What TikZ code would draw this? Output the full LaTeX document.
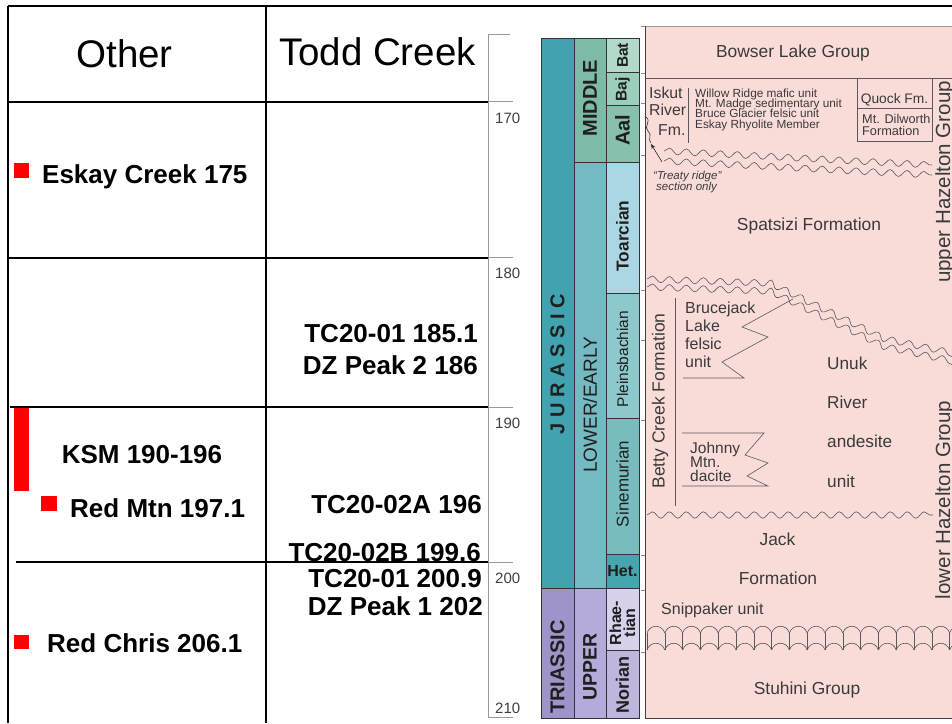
\documentclass[tikz,border=0pt]{standalone}
\usepackage{fontspec}
\setmainfont{Liberation Sans}
\usetikzlibrary{decorations.pathmorphing,arrows.meta}
\newcommand{\fsz}[1]{\fontsize{#1}{#1}\selectfont}
\definecolor{cjur}{HTML}{42A3B0}
\definecolor{cmid}{HTML}{7DBBA8}
\definecolor{clow}{HTML}{74BAC3}
\definecolor{cbat}{HTML}{B3DAC9}
\definecolor{cbaj}{HTML}{9CCEBA}
\definecolor{caal}{HTML}{85C1AC}
\definecolor{ctoa}{HTML}{AAD7E3}
\definecolor{cple}{HTML}{8DC9CC}
\definecolor{csin}{HTML}{77BDBF}
\definecolor{chet}{HTML}{46A6B0}
\definecolor{ctri}{HTML}{9F93C9}
\definecolor{cupp}{HTML}{B5AAD9}
\definecolor{crha}{HTML}{D7D1EB}
\definecolor{cnor}{HTML}{BFB6DE}
\definecolor{cpink}{HTML}{F9DCD8}
\definecolor{ctxt}{HTML}{3A3A3A}
\begin{document}
\begin{tikzpicture}[x=1pt,y=-1pt,
  tline/.style={line width=1.3pt, black},
  hdr/.style={font=\fsz{38.5}, inner sep=0pt, anchor=base},
  blab/.style={font=\bfseries\fsz{26}, inner sep=0pt},
  snum/.style={font=\fsz{15}, text=black!75, inner sep=0pt, anchor=base west},
  sline/.style={draw=black!40, line width=0.8pt},
  cellbox/.style={draw=black!80, line width=0.6pt},
  clab/.style={inner sep=0pt, text=black!88, rotate=90},
  glab/.style={font=\fsz{17.4}, text=ctxt, inner sep=0pt, anchor=base},
  gline/.style={draw=black!65, line width=0.6pt},
  wavy/.style={gline, decorate, decoration={snake, segment length=17pt, amplitude=3.2pt}},
]
\useasboundingbox (0,0) rectangle (952,723);
\fill[white] (0,0) rectangle (952,723);

% ---------- table ----------
\draw[tline] (8,6) -- (952,6);
\draw[tline] (8,6) -- (8,723);
\draw[tline] (266,6) -- (266,723);
\draw[tline] (8,102) -- (488,102);
\draw[tline] (8,258) -- (488,258);
\draw[tline] (10,407) -- (488,407);
\draw[tline] (16,562) -- (488,562);

\node[hdr] (oth) at (124.5,67) {Other};
\node[hdr] (tod) at (377.5,65) {Todd Creek};

\fill[red] (14,163) rectangle (29,178);
\node[blab, anchor=base west] (esk) at (42,183) {Eskay Creek 175};
\node[blab, anchor=base east] (tc1) at (478,342) {TC20-01 185.1};
\node[blab, anchor=base east] (dz2) at (478,374) {DZ Peak 2 186};
\fill[red] (14,408) rectangle (29,491);
\node[blab, anchor=base] (ksm) at (142,463) {KSM 190-196};
\fill[red] (41,496) rectangle (57,511);
\node[blab, anchor=base west] (rmt) at (70,517) {Red Mtn 197.1};
\node[blab, anchor=base east] (tc2a) at (482,513) {TC20-02A 196};
\node[blab, anchor=base east] (tc2b) at (481,561) {TC20-02B 199.6};
\draw[tline] (266,562) -- (488,562);
\node[blab, anchor=base east] (tc1b) at (482,587) {TC20-01 200.9};
\node[blab, anchor=base east] (dz1) at (483,615) {DZ Peak 1 202};
\fill[red] (14,635) rectangle (29,649);
\node[blab, anchor=base west] (rch) at (47,652) {Red Chris 206.1};

% ---------- scale ----------
\draw[sline] (510,34) -- (488,34) -- (488,717) -- (513,717);
\foreach \yy in {101,257,407,562} \draw[sline] (488,\yy) -- (513,\yy);
\node[snum] (s170) at (495,123) {170};
\node[snum] (s180) at (495,278) {180};
\node[snum] (s190) at (495,428) {190};
\node[snum] (s200) at (495,583) {200};
\node[snum] (s210) at (495,713) {210};

% ---------- time scale ----------
\filldraw[cellbox, fill=cjur] (541,38) rectangle (574,588);
\filldraw[cellbox, fill=ctri] (541,588) rectangle (574,718);
\filldraw[cellbox, fill=cmid] (574,38) rectangle (606,162);
\filldraw[cellbox, fill=clow] (574,162) rectangle (606,588);
\filldraw[cellbox, fill=cupp] (574,588) rectangle (606,718);
\filldraw[cellbox, fill=cbat] (606,38) rectangle (639,72);
\filldraw[cellbox, fill=cbaj] (606,72) rectangle (639,105);
\filldraw[cellbox, fill=caal] (606,105) rectangle (639,162);
\filldraw[cellbox, fill=ctoa] (606,162) rectangle (639,293);
\filldraw[cellbox, fill=cple] (606,293) rectangle (639,418);
\filldraw[cellbox, fill=csin] (606,418) rectangle (639,554);
\filldraw[cellbox, fill=chet] (606,554) rectangle (639,588);
\filldraw[cellbox, fill=crha] (606,588) rectangle (639,650);
\filldraw[cellbox, fill=cnor] (606,650) rectangle (639,718);

\node[clab, font=\bfseries\fsz{20}] (jur) at (557.5,364) {J U R A S S I C};
\node[clab, font=\bfseries\fsz{20}] (tri) at (557.5,667) {TRIASSIC};
\node[clab, font=\bfseries\fsz{20}] (mid) at (590,98) {MIDDLE};
\node[clab, font=\fsz{19}] (low) at (590,405) {LOWER/EARLY};
\node[clab, font=\bfseries\fsz{19.5}] (upp) at (590,667) {UPPER};
\node[clab, font=\bfseries\fsz{15.5}] (bat) at (622.5,55.5) {Bat};
\node[clab, font=\bfseries\fsz{15.5}] (baj) at (622.5,89.5) {Baj};
\node[clab, font=\bfseries\fsz{20}] (aal) at (622.5,130) {Aal};
\node[clab, font=\bfseries\fsz{17.3}] (toa) at (622.5,236) {Toarcian};
\node[clab, font=\fsz{15.5}] (ple) at (622.5,359) {Pleinsbachian};
\node[clab, font=\fsz{17}] (sin) at (622.5,484) {Sinemurian};
\node[inner sep=0pt, text=black!88, font=\bfseries\fsz{16}] (het) at (622.5,571) {Het.};
\node[clab, font=\bfseries\fontsize{16}{14}\selectfont, align=center] (rha) at (622.5,623) {Rhae-\\tian};
\node[clab, font=\bfseries\fsz{18}] (nor) at (622.5,685) {Norian};

% ---------- pink chart ----------
\fill[cpink] (645,26) rectangle (952,718);
\draw[draw=black!40, line width=0.6pt] (645,26) -- (952,26);
\draw[gline, draw=black!75] (645,26) -- (645,718) -- (952,718);
\foreach \yy in {26,73,103,155,290,340,420,555,590,652}
  \draw[draw=black!45, line width=0.5pt] (641,\yy) -- (645,\yy);

\node[glab] (bow) at (793,57) {Bowser Lake Group};
\draw[gline] (645,78) -- (952,78);

\node[font=\fsz{15.8}, text=ctxt, inner sep=0pt, anchor=base west] (isk1) at (649,98) {Iskut};
\node[font=\fsz{15.8}, text=ctxt, inner sep=0pt, anchor=base west] (isk2) at (649,115) {River};
\node[font=\fsz{15.8}, text=ctxt, inner sep=0pt, anchor=base west] (isk3) at (658,135) {Fm.};
\draw[gline] (688,88) -- (688,143);
\node[font=\fsz{11.8}, text=ctxt, inner sep=0pt, anchor=base west] (wr1) at (695,97) {Willow Ridge mafic unit};
\node[font=\fsz{11.8}, text=ctxt, inner sep=0pt, anchor=base west] (wr2) at (695,107) {Mt. Madge sedimentary unit};
\node[font=\fsz{11.8}, text=ctxt, inner sep=0pt, anchor=base west] (wr3) at (695,117.5) {Bruce Glacier felsic unit};
\node[font=\fsz{11.8}, text=ctxt, inner sep=0pt, anchor=base west] (wr4) at (695,128) {Eskay Rhyolite Member};

\draw[gline] (857,78) rectangle (932,141);
\draw[gline] (857,108) -- (932,108);
\node[font=\fsz{13.8}, text=ctxt, inner sep=0pt, anchor=base] (quo) at (894.5,103) {Quock Fm.};
\node[font=\fsz{12.7}, text=ctxt, inner sep=0pt, anchor=base west] (dil1) at (862,123) {Mt. Dilworth};
\node[font=\fsz{12.7}, text=ctxt, inner sep=0pt, anchor=base west] (dil2) at (862,135) {Formation};

% squiggle + arrow (Treaty ridge)
\draw[gline, draw=black!80] (646,117) .. controls (652,121) and (643,127) .. (648,131) .. controls (653,135) and (647,139) .. (651,143);
\coordinate (arT) at (651,144);
\coordinate (arS) at (662,162);
\draw[gline, draw=black!85, -{Stealth[length=5pt,width=4pt]}] (arS) -- (arT);
\node[font=\itshape\fsz{11.5}, text=ctxt, inner sep=0pt, anchor=base west] (tr1) at (653,179) {“Treaty ridge”};
\node[font=\itshape\fsz{11.5}, text=ctxt, inner sep=0pt, anchor=base west] (tr2) at (656,190) {section only};

\draw[wavy] (664,151) -- (932,165);
\draw[wavy] (664,161) -- (932,175);

\node[glab] (spa) at (809,230) {Spatsizi Formation};

\begin{scope}
\clip (645,26) rectangle (952,718);
\draw[wavy] (647,279) -- (765,283) -- (880,339) -- (960,356);
\draw[wavy] (647,287) -- (765,291) -- (880,347) -- (960,364);
\end{scope}

\node[clab, font=\fsz{17.5}, text=ctxt] (bet) at (660,401) {Betty Creek Formation};
\draw[gline] (675,298) -- (675,506);

\node[font=\fsz{16}, text=ctxt, inner sep=0pt, anchor=base west] (bj1) at (685,313) {Brucejack};
\node[font=\fsz{16}, text=ctxt, inner sep=0pt, anchor=base west] (bj2) at (685,331) {Lake};
\node[font=\fsz{16}, text=ctxt, inner sep=0pt, anchor=base west] (bj3) at (685,349) {felsic};
\node[font=\fsz{16}, text=ctxt, inner sep=0pt, anchor=base west] (bj4) at (685,367) {unit};
\draw[gline] (683,378) -- (744,378) -- (722,362) -- (768,337) -- (742,327) -- (793,299);

\node[font=\fsz{17.2}, text=ctxt, inner sep=0pt, anchor=base west] (un1) at (827,369) {Unuk};
\node[font=\fsz{17.2}, text=ctxt, inner sep=0pt, anchor=base west] (un2) at (827,408) {River};
\node[font=\fsz{17.2}, text=ctxt, inner sep=0pt, anchor=base west] (un3) at (827,447) {andesite};
\node[font=\fsz{17.2}, text=ctxt, inner sep=0pt, anchor=base west] (un4) at (827,487) {unit};

\node[font=\fsz{15.5}, text=ctxt, inner sep=0pt, anchor=base west] (jm1) at (690,453) {Johnny};
\node[font=\fsz{15.5}, text=ctxt, inner sep=0pt, anchor=base west] (jm2) at (690,467) {Mtn.};
\node[font=\fsz{15.5}, text=ctxt, inner sep=0pt, anchor=base west] (jm3) at (690,481.5) {dacite};
\draw[gline] (682,433) -- (764,433) -- (745,455) -- (768,463) -- (747,476) -- (768,486) -- (682,486);

\draw[wavy] (647,515) -- (933,515);

\node[glab] (jk1) at (777.5,545) {Jack};
\node[glab] (jk2) at (778,584) {Formation};
\node[font=\fsz{16}, text=ctxt, inner sep=0pt, anchor=base west] (snp) at (661,614) {Snippaker unit};

\begin{scope}
\clip (645,26) rectangle (952,718);
\foreach \k in {0,...,17} {
  \pgfmathsetmacro{\xa}{647+17.8*\k}
  \pgfmathsetmacro{\xb}{\xa+17.8}
  \draw[gline] (\xa,633) .. controls (\xa+3,624) and (\xb-3,624) .. (\xb,633);
  \draw[gline] (\xa,633) -- (\xa,650);
  \draw[gline] (\xa,650) .. controls (\xa+3,641) and (\xb-3,641) .. (\xb,650);
}
\end{scope}

\node[glab] (stu) at (807,694) {Stuhini Group};

\node[clab, font=\fsz{20.5}, text=ctxt, anchor=north] (uhz) at (935,182) {upper Hazelton Group};
\node[clab, font=\fsz{20.5}, text=ctxt, anchor=north] (lhz) at (935,500) {lower Hazelton Group};
\end{tikzpicture}
\end{document}
